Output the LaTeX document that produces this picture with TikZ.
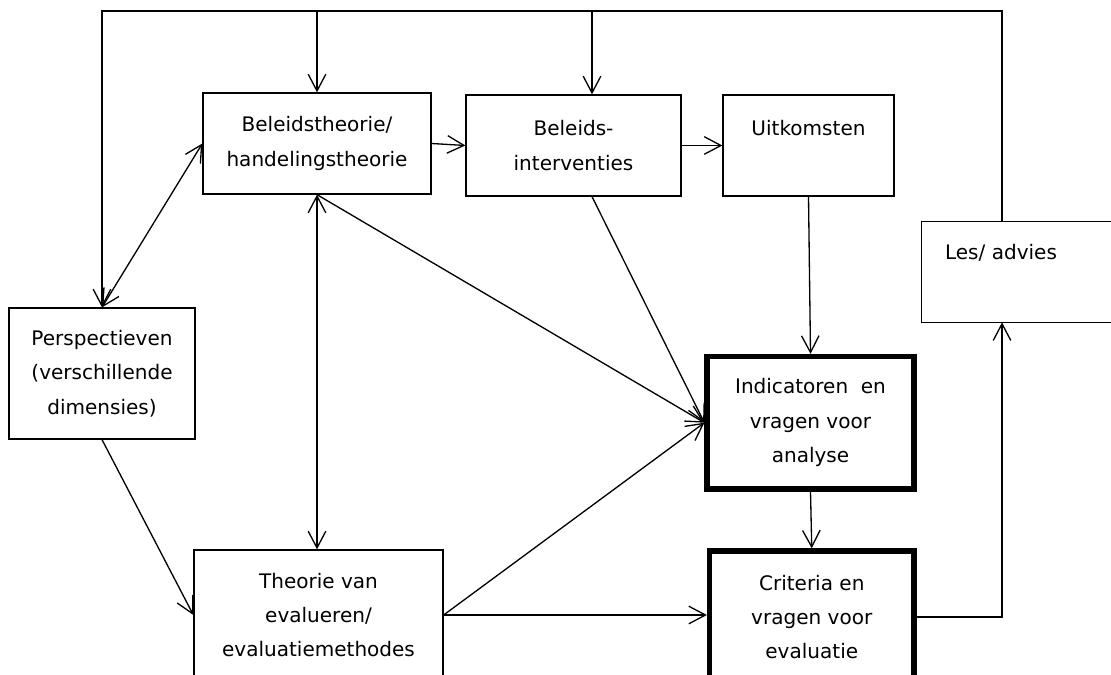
\documentclass[tikz,border=0pt]{standalone}
\usepackage{fontspec}
\setmainfont{DejaVu Sans}
\usetikzlibrary{arrows.meta}
\tikzset{
  txt/.style={align=center, font=\fontsize{11.4}{19.6}\selectfont},
  box/.style={draw, line width=0.75pt, inner sep=0pt, txt},
  thickbox/.style={box, line width=3pt},
  conn/.style={line width=0.75pt},
}
\begin{document}
\begin{tikzpicture}[x=0.02cm, y=-0.02cm, >={Straight Barb[length=9.5pt,width=10pt]}]
\useasboundingbox (0,0) rectangle (1111,675);
\clip (0,0) rectangle (1111,675);
\node[box, minimum width=4.56cm, minimum height=2.02cm] (bt) at (317,143.5) {Beleidstheorie/\\handelingstheorie};
\node[box, minimum width=4.3cm, minimum height=2.02cm] (bi) at (573.5,145.5) {Beleids-\\interventies};
\node[box, minimum width=3.42cm, minimum height=2.02cm] (uk) at (808.5,145.5) {Uitkomsten\\\mbox{}};
\node[txt, inner sep=0pt, minimum width=4.36cm, minimum height=2cm] (les) at (1031,272) {};
\draw[conn] (les.north east) -- (les.north west) -- (les.south west) -- (les.south east);
\node[txt] (lestxt) at (1001,253) {Les/ advies};
\node[box, minimum width=3.72cm, minimum height=2.62cm] (pe) at (102,373.5) {Perspectieven\\(verschillende\\dimensies)};
\node[box, minimum width=4.98cm, minimum height=2.6cm] (te) at (318.5,615) {Theorie van\\evalueren/\\evaluatiemethodes};
\node[thickbox, minimum width=4.14cm, minimum height=2.65cm] (in) at (810.5,422.7) {Indicatoren\ \ en\\vragen voor\\analyse};
\node[thickbox, minimum width=4.09cm, minimum height=2.64cm] (cr) at (811.75,617) {Criteria en\\vragen voor\\evaluatie};
\coordinate (lx) at (102,11);
\coordinate (rx) at (1002,11);
\coordinate (tb) at (317,11);
\coordinate (ti) at (592,11);
\draw[conn,->] (rx |- les.north) -- (rx) -- (lx) -- (pe.north);
\draw[conn,->] (tb) -- (tb |- bt.north);
\draw[conn,->] (ti) -- (ti |- bi.north);
\draw[conn,->] (cr.east) -| (rx |- les.south);
\draw[conn,<->] (pe.north) -- (bt.west);
\draw[conn,->] (pe.south) -- (te.west);
\draw[conn,<->] (bt.south) -- (bt.south |- te.north);
\draw[conn,->] (bt.south) -- (in.west);
\draw[conn,->] (ti |- bi.south) -- (in.west);
\draw[conn,->] (te.east) -- (in.west);
\draw[conn,->] (te.east) -- (te.east -| cr.west);
\draw[conn,->] (bt.east) -- (bi.west);
\draw[conn,->] (bi.east) -- (uk.west);
\draw[conn,->] (uk.south) -- (in.north);
\draw[conn,->] (in.south) -- (cr.north);
\end{tikzpicture}
\end{document}
